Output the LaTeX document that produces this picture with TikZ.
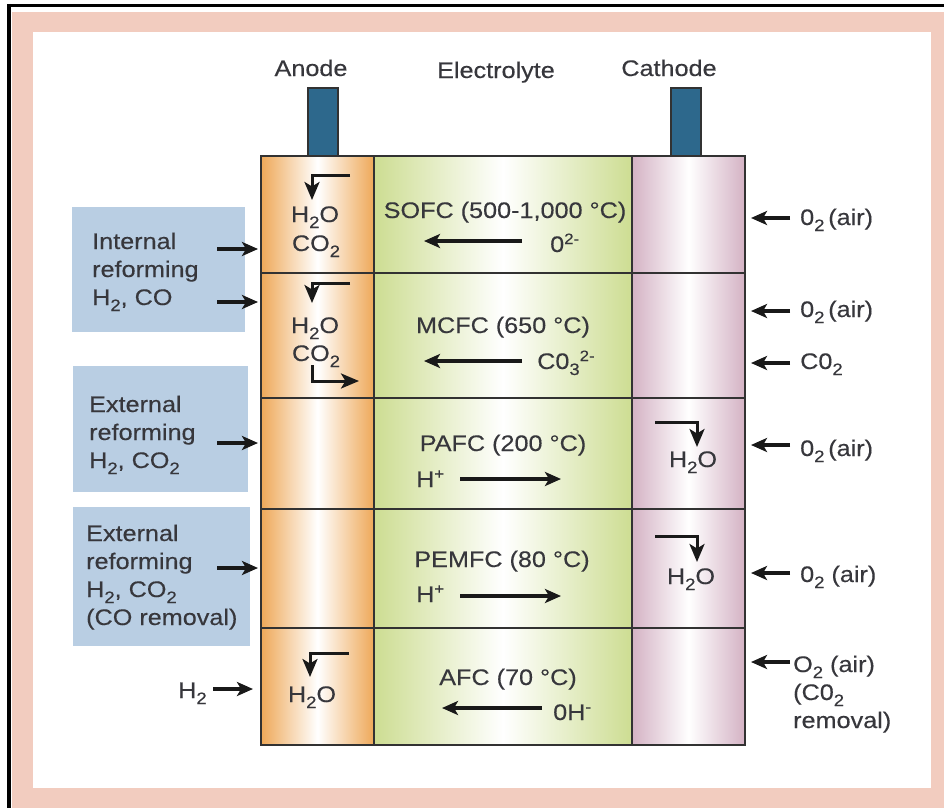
\documentclass[tikz,border=0pt]{standalone}
\usepackage{fontspec}
\setmainfont{Liberation Sans}[FakeStretch=1.12, FakeBold=0.3]
\usetikzlibrary{arrows.meta}

\definecolor{rahmen}{RGB}{242,204,191}
\definecolor{anodefarbe}{RGB}{238,168,88}
\definecolor{elektfarbe}{RGB}{205,221,146}
\definecolor{kathfarbe}{RGB}{212,178,196}
\definecolor{tabfarbe}{RGB}{45,104,140}
\definecolor{boxfarbe}{RGB}{185,206,227}
\definecolor{linie}{RGB}{50,50,50}
\definecolor{schrift}{RGB}{55,55,60}
\definecolor{pfeilfarbe}{RGB}{25,25,25}

\newcommand{\tief}[1]{\raisebox{-6pt}{\fontsize{16.5}{16.5}\selectfont #1}}
\newcommand{\hoch}[1]{\raisebox{8pt}{\fontsize{15}{15}\selectfont #1}}

\begin{document}
\begin{tikzpicture}[x=1pt, y=-1pt,
		>={Stealth[length=16pt,width=14pt,inset=4pt]},   %Voreinstellung fuer Pfeilspitzen
		pfeil/.style={->, line width=3.2pt, draw=pfeilfarbe},
		knick/.style={line width=3pt, draw=pfeilfarbe, -{Stealth[length=18pt,width=15pt,inset=4.5pt]}},
		txt/.style={anchor=base, inner sep=0pt, text=schrift},
		txtl/.style={anchor=base west, inner sep=0pt, text=schrift},
		zelle/.style={draw=linie, line width=2.4pt},
		font=\fontsize{22.5}{28}\selectfont]
		\useasboundingbox (0,0) rectangle (944,808);
		%Rahmen
		\fill[white] (0,0) rectangle (944,808);
		\fill[rahmen] (12,12) rectangle (944,808);
		\fill[white] (33,32) rectangle (931,788);
		\draw[line width=3.5pt] (9,5.6) -- (944,5.6);
		\draw[line width=4pt] (9,3.8) -- (9,808);
		% Spalten
		\shade[left color=anodefarbe, right color=anodefarbe, middle color=white] (261,156) rectangle (374,745);
		\shade[left color=elektfarbe, right color=elektfarbe, middle color=white] (374,156) rectangle (632,745);
		\shade[left color=kathfarbe, right color=kathfarbe, middle color=white] (632,156) rectangle (745,745);
		\draw[zelle] (261,156) rectangle (745,745);
		\draw[zelle] (374,156) -- (374,745) (632,156) -- (632,745);
		\foreach \y in {273,398,509,628} \draw[zelle] (261,\y) -- (745,\y);
		% Elektroden
		\filldraw[fill=tabfarbe, draw=linie, line width=2pt] (308,88) rectangle (338,156);
		\filldraw[fill=tabfarbe, draw=linie, line width=2pt] (671,88) rectangle (701,156);
		\node[txt] (anode) at (311,76) {Anode};
		\node[txt] (elektrolyt) at (496,78) {Electrolyte};
		\node[txt] (kathode) at (669,76) {Cathode};
		% Reformierung
		\fill[boxfarbe] (72,207) rectangle (245,332);
		\fill[boxfarbe] (73,366) rectangle (248,492);
		\fill[boxfarbe] (73,507) rectangle (250,646);
		\node[txtl, align=left] (intern) at (92,305) {Internal\\reforming\\H\tief{2}, CO};
		\node[txtl, align=left] (extern) at (89,468) {External\\reforming\\H\tief{2}, CO\tief{2}};
		\node[txtl, align=left] (externco) at (86,625) {External\\reforming\\H\tief{2}, CO\tief{2}\\(CO removal)};
		\node[txtl] (wasserstoff) at (178,698) {H\tief{2}};
		\foreach \y/\n in {249/1, 302/2, 443/3, 568/4} {
			\coordinate (ein\n) at (217,\y);
			\coordinate (an\n) at (258,\y);
			\draw[pfeil] (ein\n) -- (an\n);
		}
		\coordinate (ein5) at (213,689);
		\coordinate (an5) at (253,689);
		\draw[pfeil] (ein5) -- (an5);
		% Kathodenseite
		\foreach \y/\n in {218/1, 311/2, 363/3, 445/4, 573/5, 662/6} {
			\coordinate (ka\n) at (790,\y);
			\coordinate (ks\n) at (751,\y);
			\draw[pfeil] (ka\n) -- (ks\n);
		}
		\node[txtl] (luft1) at (800,225) {0\tief{2}\,(air)};
		\node[txtl] (luft2) at (800,317) {0\tief{2}\,(air)};
		\node[txtl] (kohlendioxid) at (800,369) {C0\tief{2}};
		\node[txtl] (luft3) at (800,456) {0\tief{2}\,(air)};
		\node[txtl] (luft4) at (800,582) {0\tief{2} (air)};
		\node[txtl, align=left] (luft5) at (793,728) {O\tief{2} (air)\\(C0\tief{2}\\removal)};
		% SOFC
		\node[txt] (sofc) at (505,218) {SOFC (500-1,000 °C)};
		\node[txtl] (sauerstoff) at (550,252) {0\hoch{2-}};
		\coordinate (s1) at (522,241); \coordinate (s2) at (424,241);
		\draw[pfeil] (s1) -- (s2);
		\node[txt] (sofcw) at (315,222) {H\tief{2}O};
		\node[txt] (sofcc) at (316,251) {CO\tief{2}};
		\coordinate (sk1) at (350,175); \coordinate (sk2) at (312,200);
		\draw[knick] (sk1) -| (sk2);
		% MCFC
		\node[txt] (mcfc) at (503,333) {MCFC (650 °C)};
		\node[txtl] (karbonat) at (537,369) {C0\tief{3}\hoch{2-}};
		\coordinate (m1) at (522,361); \coordinate (m2) at (424,361);
		\draw[pfeil] (m1) -- (m2);
		\node[txt] (mcfcw) at (315,333) {H\tief{2}O};
		\node[txt] (mcfcc) at (316,361) {CO\tief{2}};
		\coordinate (mk1) at (350,283); \coordinate (mk2) at (312,303);
		\draw[knick] (mk1) -| (mk2);
		\coordinate (mk3) at (312,365); \coordinate (mk4) at (359,381);
		\draw[knick] (mk3) |- (mk4);
		% PAFC
		\node[txt] (pafc) at (503,451) {PAFC (200 °C)};
		\node[txtl] (proton1) at (416,487) {H\hoch{+}};
		\coordinate (p1) at (460,479); \coordinate (p2) at (561,479);
		\draw[pfeil] (p1) -- (p2);
		\node[txt] (pafcw) at (693,467) {H\tief{2}O};
		\coordinate (pk1) at (655,422); \coordinate (pk2) at (697,447);
		\draw[knick] (pk1) -| (pk2);
		% PEMFC
		\node[txt] (pemfc) at (502,567) {PEMFC (80 °C)};
		\node[txtl] (proton2) at (416,602) {H\hoch{+}};
		\coordinate (e1) at (460,596); \coordinate (e2) at (561,596);
		\draw[pfeil] (e1) -- (e2);
		\node[txt] (pemfcw) at (691,584) {H\tief{2}O};
		\coordinate (ek1) at (655,536); \coordinate (ek2) at (697,562);
		\draw[knick] (ek1) -| (ek2);
		% AFC
		\node[txt] (afc) at (508,685) {AFC (70 °C)};
		\node[txtl] (hydroxid) at (553,720) {0H\hoch{-}};
		\coordinate (a1) at (542,708); \coordinate (a2) at (442,708);
		\draw[pfeil] (a1) -- (a2);
		\node[txt] (afcw) at (312,702) {H\tief{2}O};
		\coordinate (ak1) at (349,653); \coordinate (ak2) at (310,677);
		\draw[knick] (ak1) -| (ak2);
	\end{tikzpicture}
\end{document}
